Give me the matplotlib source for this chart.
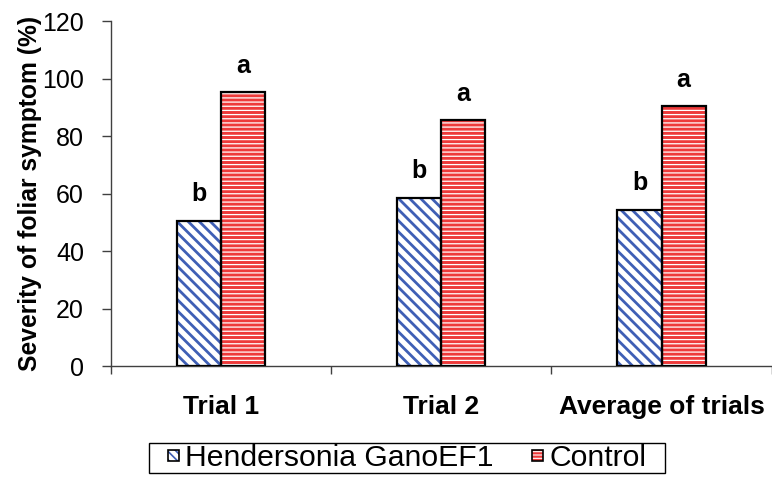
import matplotlib
matplotlib.use("Agg")
import matplotlib.pyplot as plt
import numpy as np
from matplotlib.patches import Patch, Rectangle
from matplotlib.legend_handler import HandlerBase

plt.rcParams['font.family'] = ['Liberation Sans', 'DejaVu Sans']

categories = ["Trial 1", "Trial 2", "Average of trials"]
hendersonia = [50.5, 58.4, 54.3]
control = [95.3, 85.6, 90.4]
letters_h = ["b", "b", "b"]
letters_c = ["a", "a", "a"]
series_names = ["Hendersonia GanoEF1", "Control"]
yticks = [0, 20, 40, 60, 80, 100, 120]

blue = "#3f5fb5"
red = "#ee3a3a"

fig = plt.figure(figsize=(7.72, 4.83), dpi=100)
ax = fig.add_axes([0.1438, 0.2422, 0.8557, 0.7143])

x = np.arange(len(categories))
w = 0.2


def hatched_bars(xpos, vals, face, hatch, hcolor, hlw):
    bars = ax.bar(xpos, vals, w, color=face, edgecolor=hcolor, linewidth=0,
                  hatch=hatch, zorder=2)
    for b in bars:
        if hasattr(b, "set_hatch_linewidth"):
            b.set_hatch_linewidth(hlw)
    ax.bar(xpos, vals, w, fill=False, edgecolor="black", linewidth=1.6, zorder=3)
    return bars


with plt.rc_context({'hatch.linewidth': 2.0}):
    hatched_bars(x - w / 2, hendersonia, "white", "\\\\\\", blue, 2.0)
with plt.rc_context({'hatch.linewidth': 0.9}):
    hatched_bars(x + w / 2, control, red, "----", "white", 0.9)

for i in range(len(categories)):
    ax.text(x[i] - w / 2, hendersonia[i] + 9.3, letters_h[i], ha="center", va="center",
            fontsize=18, fontweight="bold")
    ax.text(x[i] + w / 2, control[i] + 9.0, letters_c[i], ha="center", va="center",
            fontsize=18, fontweight="bold")

ax.set_xlim(-0.5, 2.5)
ax.set_ylim(0, 120)
ax.set_yticks(yticks)
ax.tick_params(axis="y", labelsize=18, length=6.5, width=1, direction="out",
               color="#404040", pad=13)
ax.set_xticks(x)
ax.set_xticklabels(categories, fontsize=19, fontweight="bold")
ax.set_xticks([-0.5, 0.5, 1.5, 2.5], minor=True)
ax.tick_params(axis="x", which="major", length=0, pad=21)
ax.tick_params(axis="x", which="minor", length=6, width=1, direction="out", color="#404040")
for s in ["top", "right"]:
    ax.spines[s].set_visible(False)
for s in ["left", "bottom"]:
    ax.spines[s].set_color("#404040")
    ax.spines[s].set_linewidth(1.0)

ax.set_ylabel("Severity of foliar symptom (%)", fontsize=17.75, fontweight="bold")
ax.yaxis.set_label_coords(-0.105, 0.5)


class SquareHandler(HandlerBase):
    def __init__(self, face, hcolor, hatch, hlw, size=8):
        super().__init__()
        self.face, self.hcolor, self.hatch, self.hlw, self.size = face, hcolor, hatch, hlw, size

    def create_artists(self, legend, orig_handle, xdescent, ydescent, width, height,
                       fontsize, trans):
        s = self.size
        x0 = -xdescent + (width - s) / 2
        y0 = -ydescent + (height - s) / 2
        with plt.rc_context({'hatch.linewidth': self.hlw}):
            r1 = Rectangle((x0, y0), s, s, facecolor=self.face, edgecolor=self.hcolor,
                           hatch=self.hatch, linewidth=0, transform=trans)
        if hasattr(r1, "set_hatch_linewidth"):
            r1.set_hatch_linewidth(self.hlw)
        r2 = Rectangle((x0, y0), s, s, fill=False, edgecolor="black", linewidth=1.2,
                       transform=trans)
        return [r1, r2]


p1 = Patch(label=series_names[0])
p2 = Patch(label=series_names[1])
leg = fig.legend([p1, p2], series_names, loc="center",
                 bbox_to_anchor=(407 / 772, 1 - 458 / 483),
                 handler_map={p1: SquareHandler("white", blue, "\\\\\\\\", 1.2),
                              p2: SquareHandler(red, "white", "-----", 0.8)},
                 ncol=2, fontsize=21.7, frameon=False,
                 handlelength=0.4, handletextpad=0.2, columnspacing=1.25,
                 borderpad=0.0, borderaxespad=0)

fig.canvas.draw()
bb = leg.get_window_extent().transformed(fig.transFigure.inverted())
padx = 18 / 772
pady = 1 / 483
fig.patches.append(Rectangle((bb.x0 - padx, bb.y0 - pady), bb.width + 2 * padx,
                             bb.height + 2 * pady, transform=fig.transFigure,
                             fill=False, edgecolor="black", linewidth=1.0))

fig.savefig("out.png", dpi=100)
